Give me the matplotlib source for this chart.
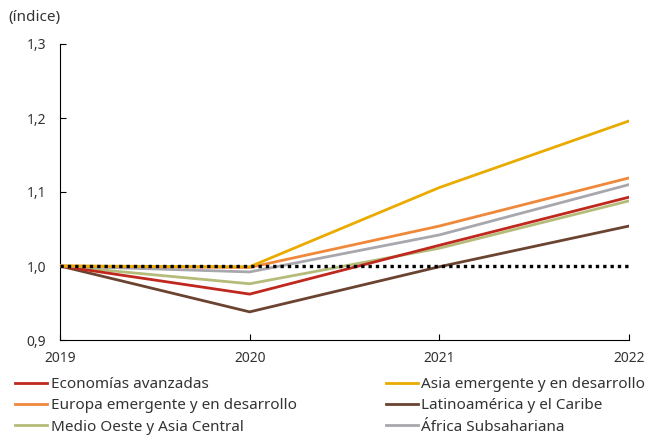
import matplotlib.pyplot as plt

plt.rcParams['font.family'] = ['Noto Sans', 'DejaVu Sans']

years = [2019, 2020, 2021, 2022]

economias_avanzadas = [1.0, 0.962, 1.028, 1.093]
asia_emergente = [1.0, 0.999, 1.106, 1.196]
europa_emergente = [1.0, 0.998, 1.054, 1.119]
latinoamerica = [1.0, 0.938, 0.999, 1.054]
medio_oeste = [1.0, 0.976, 1.024, 1.088]
africa = [1.0, 0.992, 1.042, 1.110]

series = [
    ('Economías avanzadas', economias_avanzadas, '#C0281E'),
    ('Europa emergente y en desarrollo', europa_emergente, '#F0883A'),
    ('Medio Oeste y Asia Central', medio_oeste, '#B5BC7A'),
    ('Asia emergente y en desarrollo', asia_emergente, '#EAAB00'),
    ('Latinoamérica y el Caribe', latinoamerica, '#6B4331'),
    ('África Subsahariana', africa, '#A8A7AE'),
]

fig = plt.figure(figsize=(6.47, 4.36), dpi=100)
ax = fig.add_axes([60 / 647, 1 - 340 / 436, 569 / 647, 296 / 436])

# draw in an order that puts yellow on top
draw_order = [4, 2, 0, 5, 1, 3]
lines = {}
for i in draw_order:
    name, vals, col = series[i]
    lines[i], = ax.plot(years, vals, color=col, lw=2.0, label=name, zorder=3)

ax.plot([2019, 2022], [1.0, 1.0], color='black', lw=2.4, ls=(0, (1, 1.2)), zorder=4)

ax.set_xlim(2019, 2022)
ax.set_ylim(0.9, 1.3)
ax.set_xticks(years)
ax.set_yticks([0.9, 1.0, 1.1, 1.2, 1.3])
ax.set_yticklabels(['0,9', '1,0', '1,1', '1,2', '1,3'])
ax.tick_params(direction='in', length=4, width=0.8, labelsize=10, colors='black', labelcolor='#333333')
ax.tick_params(axis='x', pad=8)
ax.tick_params(axis='y', pad=10)
for s in ['top', 'right']:
    ax.spines[s].set_visible(False)
for s in ['left', 'bottom']:
    ax.spines[s].set_linewidth(0.8)

fig.text(8 / 647, 1 - 18 / 436, '(índice)', fontsize=11, color='#333333', va='center')

fig.legend([lines[i] for i in range(6)], [s[0] for s in series],
           loc='upper left', bbox_to_anchor=(15 / 647, 1 - 377 / 436), ncol=2,
           frameon=False, fontsize=11, handlelength=2.1, handletextpad=0.25,
           columnspacing=5.8, labelspacing=0.42, borderaxespad=0, borderpad=0,
           labelcolor='#333333')

fig.savefig('out.png', dpi=100)
